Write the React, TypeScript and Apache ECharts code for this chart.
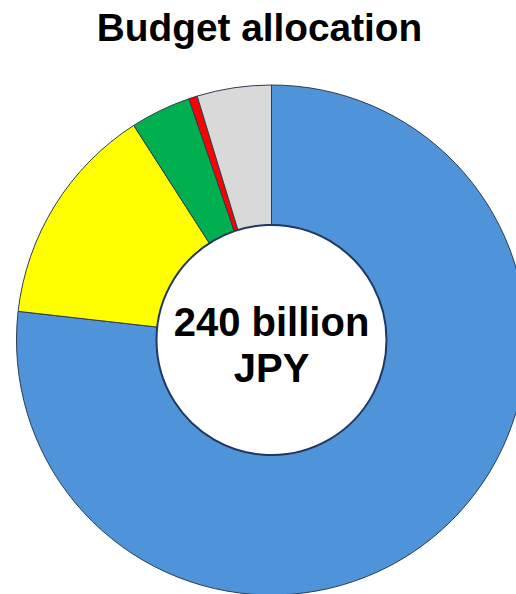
import React, { useEffect, useRef } from "react";
import * as echarts from "echarts";

const categories = ["Category A", "Category B", "Category C", "Category D", "Category E"];
const values = [184.3, 33.9, 9.2, 1.3, 11.3];
const colors = ["#4F93D9", "#FFFF00", "#00B050", "#FF0000", "#D9D9D9"];
const titleText = "Budget allocation";
const centerText = "240 billion\nJPY";

export default function App() {
  const ref = useRef<HTMLDivElement>(null);
  useEffect(() => {
    document.body.style.margin = "0";
    const chart = echarts.init(ref.current!, null, { renderer: "svg" });
    const cx = 271.5;
    const cy = 340;
    chart.setOption({
      animation: false,
      backgroundColor: "#ffffff",
      series: [
        {
          type: "pie",
          center: [cx, cy],
          radius: [115, 255],
          startAngle: 90,
          clockwise: true,
          label: { show: false },
          labelLine: { show: false },
          emphasis: { disabled: true },
          itemStyle: { borderColor: "#2f3d4f", borderWidth: 1 },
          data: categories.map((c, i) => ({
            name: c,
            value: values[i],
            itemStyle: { color: colors[i] },
          })),
        },
      ],
      graphic: [
        {
          type: "circle",
          shape: { cx, cy, r: 115 },
          style: { fill: "#ffffff", stroke: "#1F3864", lineWidth: 2 },
          z: 10,
        },
        {
          type: "text",
          x: cx,
          y: cy + 5,
          z: 11,
          style: {
            text: centerText,
            fill: "#000000",
            font: "bold 40px 'Liberation Sans', Arial, sans-serif",
            align: "center",
            verticalAlign: "middle",
            lineHeight: 46,
          },
        },
        {
          type: "text",
          x: 259.5,
          y: 27,
          z: 11,
          style: {
            text: titleText,
            fill: "#000000",
            font: "bold 38.8px 'Liberation Sans', Arial, sans-serif",
            align: "center",
            verticalAlign: "middle",
          },
        },
      ],
    });
    return () => chart.dispose();
  }, []);
  return <div ref={ref} style={{ width: 516, height: 594 }} />;
}
